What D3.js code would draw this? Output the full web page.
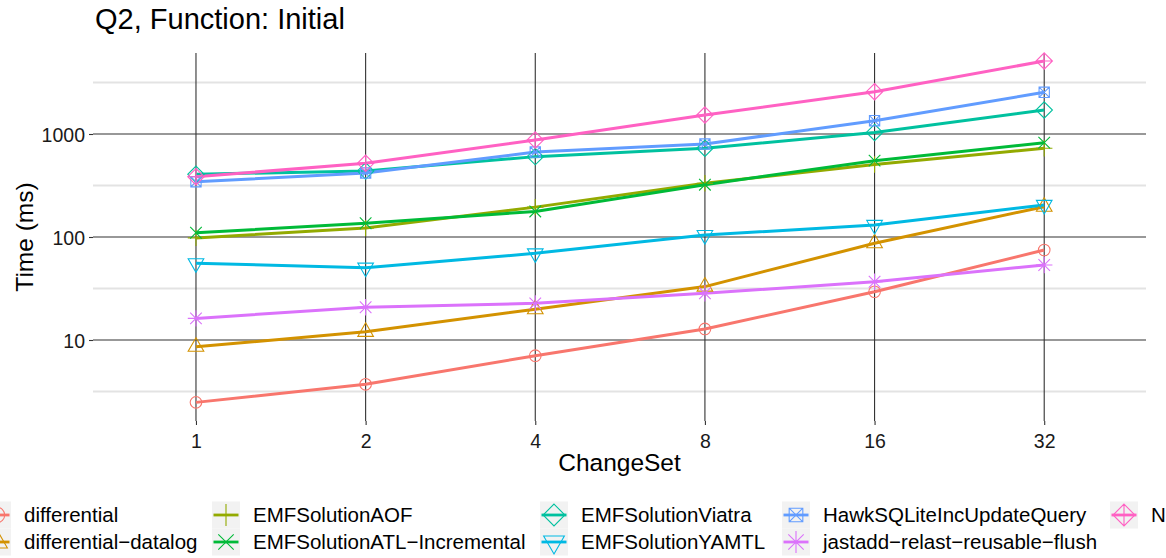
<!DOCTYPE html>
<html>
<head>
<meta charset="utf-8">
<script src="https://cdn.jsdelivr.net/npm/d3@7"></script>
<style>
  html, body { margin: 0; padding: 0; background: #ffffff; overflow: hidden; }
  svg { display: block; font-family: "Liberation Sans", Arial, Helvetica, sans-serif; }
</style>
</head>
<body>
<svg id="chart" width="1166" height="558"></svg>
<script>
// ---- data ---------------------------------------------------------------
const changeSets = [1, 2, 4, 8, 16, 32];

const toolNames = [
  "differential",
  "differential\u2212datalog",
  "EMFSolutionAOF",
  "EMFSolutionATL\u2212Incremental",
  "EMFSolutionViatra",
  "EMFSolutionYAMTL",
  "HawkSQLiteIncUpdateQuery",
  "jastadd\u2212relast\u2212reusable\u2212flush",
  "NMF"
];

// time in ms per change set
const differential       = [2.48, 3.71, 7.04, 12.8, 29.4, 74.8];
const differentialDatalog = [8.6, 12.0, 19.9, 33.0, 86.9, 197];
const emfAOF             = [98, 122, 195, 332, 505, 728];
const emfATLIncremental  = [110, 136, 177, 322, 551, 824];
const emfViatra          = [406, 438, 603, 728, 1035, 1710];
const emfYAMTL           = [55.6, 50.4, 69.4, 104.5, 131, 205];
const hawkSQLite         = [344, 418, 668, 800, 1346, 2540];
const jastadd            = [16.2, 20.8, 22.7, 28.4, 36.8, 53.5];
const nmf                = [385, 519, 874, 1528, 2574, 5113];

const seriesValues = [
  differential, differentialDatalog, emfAOF, emfATLIncremental,
  emfViatra, emfYAMTL, hawkSQLite, jastadd, nmf
];

const yTicks = [10, 100, 1000];
const yMinorTicks = [Math.sqrt(10), Math.sqrt(1000), Math.sqrt(100000), Math.sqrt(10000000)];

// ---- styling ------------------------------------------------------------
const colors = ["#F8766D", "#D39200", "#93AA00", "#00BA38", "#00C19F",
                "#00B9E3", "#619CFF", "#DB72FB", "#FF61C3"];
const shapeCodes = [1, 2, 3, 4, 5, 6, 7, 8, 9];

const panel = { left: 93, right: 1146, top: 53, bottom: 421 };

const svg = d3.select("#chart");

// log2 x scale, log10 y scale (one decade spans 103px)
const x = d3.scaleLog().base(2)
  .domain([Math.pow(2, -0.607), Math.pow(2, 5.6)])
  .range([panel.left, panel.right]);
const y = d3.scaleLog()
  .domain([Math.pow(10, 3 - (panel.bottom - 134) / 103), Math.pow(10, 3 + (134 - panel.top) / 103)])
  .range([panel.bottom, panel.top]);

// R-style point glyphs centred at 0,0
function glyph(code, rc) {
  const s2 = Math.SQRT2 * rc;
  switch (code) {
    case 1: return `M${rc},0A${rc},${rc} 0 1,1 ${-rc},0A${rc},${rc} 0 1,1 ${rc},0Z`;
    case 2: return `M0,${-1.5551 * rc}L${1.3468 * rc},${0.7776 * rc}L${-1.3468 * rc},${0.7776 * rc}Z`;
    case 3: return `M${-s2},0H${s2}M0,${-s2}V${s2}`;
    case 4: return `M${-rc},${-rc}L${rc},${rc}M${-rc},${rc}L${rc},${-rc}`;
    case 5: return `M0,${-s2}L${s2},0L0,${s2}L${-s2},0Z`;
    case 6: return `M0,${1.5551 * rc}L${1.3468 * rc},${-0.7776 * rc}L${-1.3468 * rc},${-0.7776 * rc}Z`;
    case 7: { const s = 0.8862 * rc;
      return `M${-s},${-s}H${s}V${s}H${-s}ZM${-s},${-s}L${s},${s}M${-s},${s}L${s},${-s}`; }
    case 8: return `M${-rc},${-rc}L${rc},${rc}M${-rc},${rc}L${rc},${-rc}M${-s2},0H${s2}M0,${-s2}V${s2}`;
    case 9: return `M0,${-s2}L${s2},0L0,${s2}L${-s2},0ZM${-s2},0H${s2}M0,${-s2}V${s2}`;
  }
  return "";
}

// ---- grid ---------------------------------------------------------------
const grid = svg.append("g");
grid.selectAll("line.minor").data(yMinorTicks).join("line")
  .attr("x1", panel.left).attr("x2", panel.right)
  .attr("y1", d => y(d)).attr("y2", d => y(d))
  .attr("stroke", "#e3e3e3").attr("stroke-width", 1.8);
grid.selectAll("line.major").data(yTicks).join("line")
  .attr("x1", panel.left).attr("x2", panel.right)
  .attr("y1", d => y(d)).attr("y2", d => y(d))
  .attr("stroke", "#333333").attr("stroke-width", 1.1);
grid.selectAll("line.vert").data(changeSets).join("line")
  .attr("x1", d => x(d)).attr("x2", d => x(d))
  .attr("y1", panel.top).attr("y2", panel.bottom)
  .attr("stroke", "#333333").attr("stroke-width", 1.1);

// ---- axes ---------------------------------------------------------------
const xAxis = d3.axisBottom(x).tickValues(changeSets).tickFormat(d3.format("d"))
  .tickSize(4).tickPadding(4);
const gx = svg.append("g").attr("transform", `translate(0,${panel.bottom})`).call(xAxis);
gx.select(".domain").remove();
gx.selectAll(".tick line").attr("stroke", "#333333").attr("stroke-width", 1.1);
gx.selectAll(".tick text").attr("fill", "#1a1a1a").attr("font-size", 19.5)
  .attr("font-family", "Liberation Sans, Arial, sans-serif").attr("dy", "0.95em");

const yAxis = d3.axisLeft(y).tickValues(yTicks).tickFormat(d3.format("d"))
  .tickSize(4).tickPadding(4);
const gy = svg.append("g").attr("transform", `translate(${panel.left},0)`).call(yAxis);
gy.select(".domain").remove();
gy.selectAll(".tick line").attr("stroke", "#333333").attr("stroke-width", 1.1);
gy.selectAll(".tick text").attr("fill", "#1a1a1a").attr("font-size", 19.5)
  .attr("font-family", "Liberation Sans, Arial, sans-serif").attr("dy", "0.36em");

// ---- lines and points ---------------------------------------------------
const seriesData = toolNames.map((name, i) => ({
  name, color: colors[i], shape: shapeCodes[i],
  points: changeSets.map((c, j) => ({ c, v: seriesValues[i][j] }))
}));

const line = d3.line().x(d => x(d.c)).y(d => y(d.v));

svg.append("g").selectAll("path").data(seriesData).join("path")
  .attr("d", d => line(d.points))
  .attr("fill", "none").attr("stroke", d => d.color)
  .attr("stroke-width", 3).attr("stroke-linejoin", "round");

const rc = 5.8;
svg.append("g").selectAll("g").data(seriesData).join("g")
  .each(function (s) {
    d3.select(this).selectAll("path").data(s.points).join("path")
      .attr("transform", d => `translate(${x(d.c)},${y(d.v)})`)
      .attr("d", glyph(s.shape, rc))
      .attr("fill", "none").attr("stroke", s.color).attr("stroke-width", 1.1);
  });

// ---- titles -------------------------------------------------------------
svg.append("text").attr("x", 95).attr("y", 29)
  .attr("font-size", 29).attr("fill", "#000")
  .text("Q2, Function: Initial");

svg.append("text").attr("x", (panel.left + panel.right) / 2).attr("y", 471)
  .attr("text-anchor", "middle").attr("font-size", 24.5).attr("fill", "#000")
  .text("ChangeSet");

svg.append("text")
  .attr("transform", `translate(33,${(panel.top + panel.bottom) / 2}) rotate(-90)`)
  .attr("text-anchor", "middle").attr("font-size", 24.5).attr("fill", "#000")
  .text("Time (ms)");

// ---- legend (two rows, filled column by column) -------------------------
const legendCols = [-17, 212, 540, 782, 1110];
const legendRows = [515, 542];
const keyW = 28, keyH = 27, legendRc = 7.7;

const legend = svg.append("g");
seriesData.forEach((s, i) => {
  const cx = legendCols[Math.floor(i / 2)];
  const cy = legendRows[i % 2];
  const g = legend.append("g").attr("transform", `translate(${cx},${cy})`);
  g.append("rect").attr("x", 0).attr("y", -keyH / 2).attr("width", keyW).attr("height", keyH)
    .attr("fill", "#f2f2f2");
  g.append("line").attr("x1", 1.5).attr("x2", keyW - 1.5).attr("y1", 0).attr("y2", 0)
    .attr("stroke", s.color).attr("stroke-width", 2.8);
  g.append("path").attr("transform", `translate(${keyW / 2},0)`)
    .attr("d", glyph(s.shape, legendRc))
    .attr("fill", "none").attr("stroke", s.color).attr("stroke-width", 1.1);
  g.append("text").attr("x", keyW + 13).attr("y", 0).attr("dy", "0.36em")
    .attr("font-size", 20.5).attr("fill", "#000").text(s.name);
});
</script>
</body>
</html>
